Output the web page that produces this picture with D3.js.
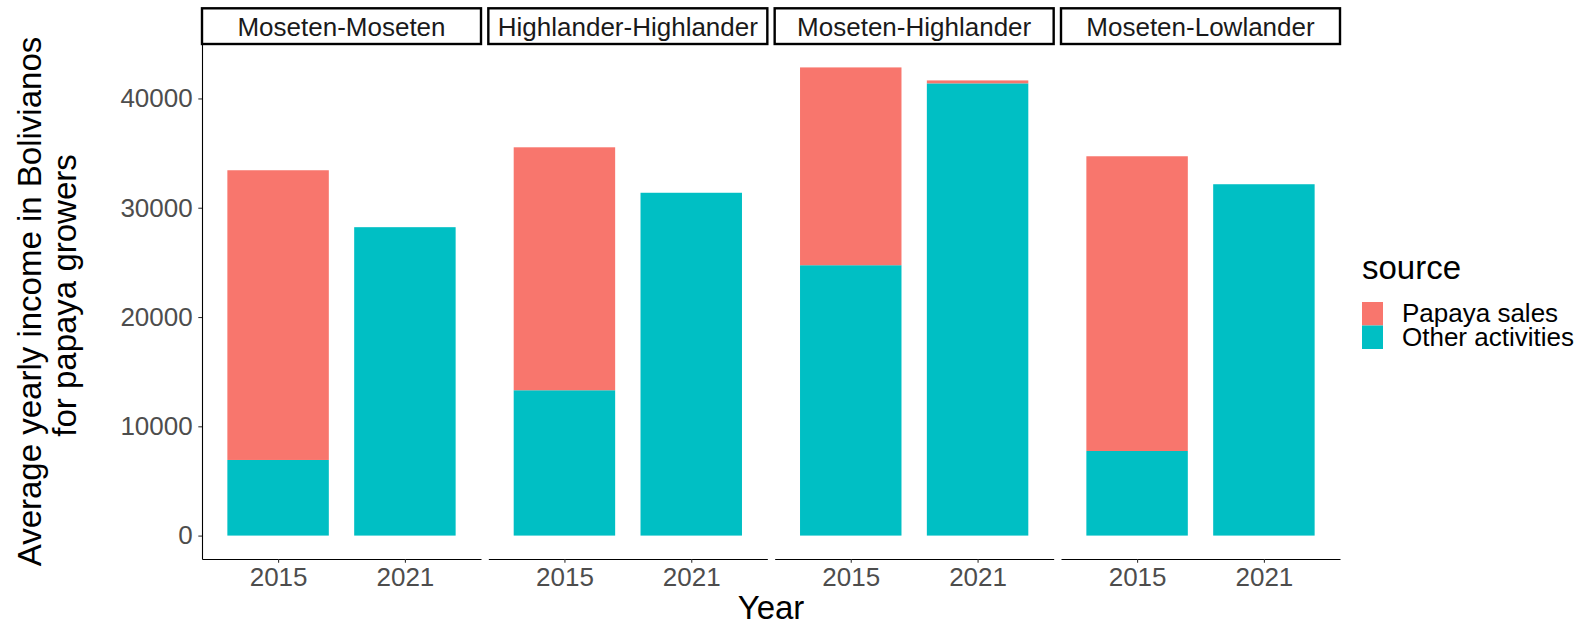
<!DOCTYPE html>
<html lang="en">
<head>
<meta charset="utf-8">
<title>Papaya growers income</title>
<script src="https://cdnjs.cloudflare.com/ajax/libs/d3/7.8.5/d3.min.js"></script>
<style>
	body { margin: 0; background: #fff; }
	text { font-family: "Liberation Sans", Arial, sans-serif; }
	.axis .domain { stroke: #000; stroke-width: 1.1px; }
	.axis .tick line { stroke: #333; stroke-width: 1.1px; }
	.axis .tick text { fill: #4d4d4d; font-size: 26px; }
</style>
</head>
<body>
<div id="chart"></div>
<script>
// data
var groups = ["Moseten-Moseten", "Highlander-Highlander", "Moseten-Highlander", "Moseten-Lowlander"];
var years = ["2015", "2021"];
var otherActivities = [[6920, 28220], [13300, 31370], [24740, 41380], [7740, 32150]];
var papayaSales = [[26510, 0], [22230, 0], [18100, 270], [26970, 0]];
var sources = ["Papaya sales", "Other activities"];
var colors = ["#F8766D", "#00BFC4"];
var yTicks = [0, 10000, 20000, 30000, 40000];

var width = 1589, height = 626;
var margin = { top: 44, bottom: 559, left: 202, right: 1340 };

var svg = d3.select("#chart").append("svg")
	.attr("width", width)
	.attr("height", height);

// rows for the stack, one per facet and year
var rows = [];
groups.forEach(function (g, i) {
	years.forEach(function (yr, j) {
		rows.push({ group: g, year: yr, "Other activities": otherActivities[i][j], "Papaya sales": papayaSales[i][j] });
	});
});

var stacked = d3.stack().keys(["Other activities", "Papaya sales"])(rows);
var maxTotal = d3.max(rows, function (d) { return d["Other activities"] + d["Papaya sales"]; });

var y = d3.scaleLinear()
	.domain([-0.05 * maxTotal, 1.05 * maxTotal])
	.range([margin.bottom, margin.top]);

var fx = d3.scaleBand()
	.domain(groups)
	.range([margin.left, margin.right])
	.paddingInner(0.0256)
	.paddingOuter(0);

var x = d3.scalePoint()
	.domain(years)
	.range([0, fx.bandwidth()])
	.padding(0.6);
var barW = 0.8 * x.step();

var color = d3.scaleOrdinal().domain(sources).range(colors);

// panels
groups.forEach(function (g) {
	var p = svg.append("g").attr("transform", "translate(" + fx(g) + ",0)");

	stacked.forEach(function (layer) {
		p.selectAll(null)
			.data(layer.filter(function (d) { return d.data.group === g && d[1] > d[0]; }))
			.join("rect")
			.attr("x", function (d) { return x(d.data.year) - barW / 2; })
			.attr("width", barW)
			.attr("y", function (d) { return y(d[1]); })
			.attr("height", function (d) { return y(d[0]) - y(d[1]); })
			.attr("fill", color(layer.key));
	});

	p.append("g")
		.attr("class", "axis")
		.attr("transform", "translate(0," + margin.bottom + ")")
		.call(d3.axisBottom(x).tickSize(3.7).tickSizeOuter(0).tickPadding(4.5));

	// strip
	p.append("rect")
		.attr("x", 0)
		.attr("y", 8.3)
		.attr("width", fx.bandwidth())
		.attr("height", 35.7)
		.attr("fill", "#fff")
		.attr("stroke", "#000")
		.attr("stroke-width", 2.4);
	p.append("text")
		.attr("x", fx.bandwidth() / 2)
		.attr("y", 35.5)
		.attr("text-anchor", "middle")
		.attr("fill", "#1a1a1a")
		.style("font-size", "26px")
		.text(g);
});

svg.append("g")
	.attr("class", "axis")
	.attr("transform", "translate(" + margin.left + ",0)")
	.call(d3.axisLeft(y).tickValues(yTicks).tickFormat(d3.format("d")).tickSize(3.7).tickSizeOuter(0).tickPadding(5.6));

// axis titles
svg.append("text")
	.attr("x", (margin.left + margin.right) / 2)
	.attr("y", 619)
	.attr("text-anchor", "middle")
	.style("font-size", "33px")
	.text("Year");

var yMid = (margin.top + margin.bottom) / 2;
[["Average yearly income in Bolivianos", 41, 0], ["for papaya growers", 76, 6]].forEach(function (l) {
	svg.append("text")
		.attr("transform", "translate(" + l[1] + "," + (yMid - l[2]) + ") rotate(-90)")
		.attr("text-anchor", "middle")
		.style("font-size", "33px")
		.text(l[0]);
});

// legend
var lg = svg.append("g").attr("transform", "translate(1362,0)");
lg.append("text")
	.attr("x", 0)
	.attr("y", 279)
	.style("font-size", "33px")
	.text("source");
sources.forEach(function (s, i) {
	lg.append("rect")
		.attr("x", 0)
		.attr("y", 302 + i * 23.5)
		.attr("width", 21)
		.attr("height", 23.5)
		.attr("fill", color(s));
	lg.append("text")
		.attr("x", 40)
		.attr("y", 322 + i * 23.5)
		.style("font-size", "26px")
		.text(s);
});
</script>
</body>
</html>
